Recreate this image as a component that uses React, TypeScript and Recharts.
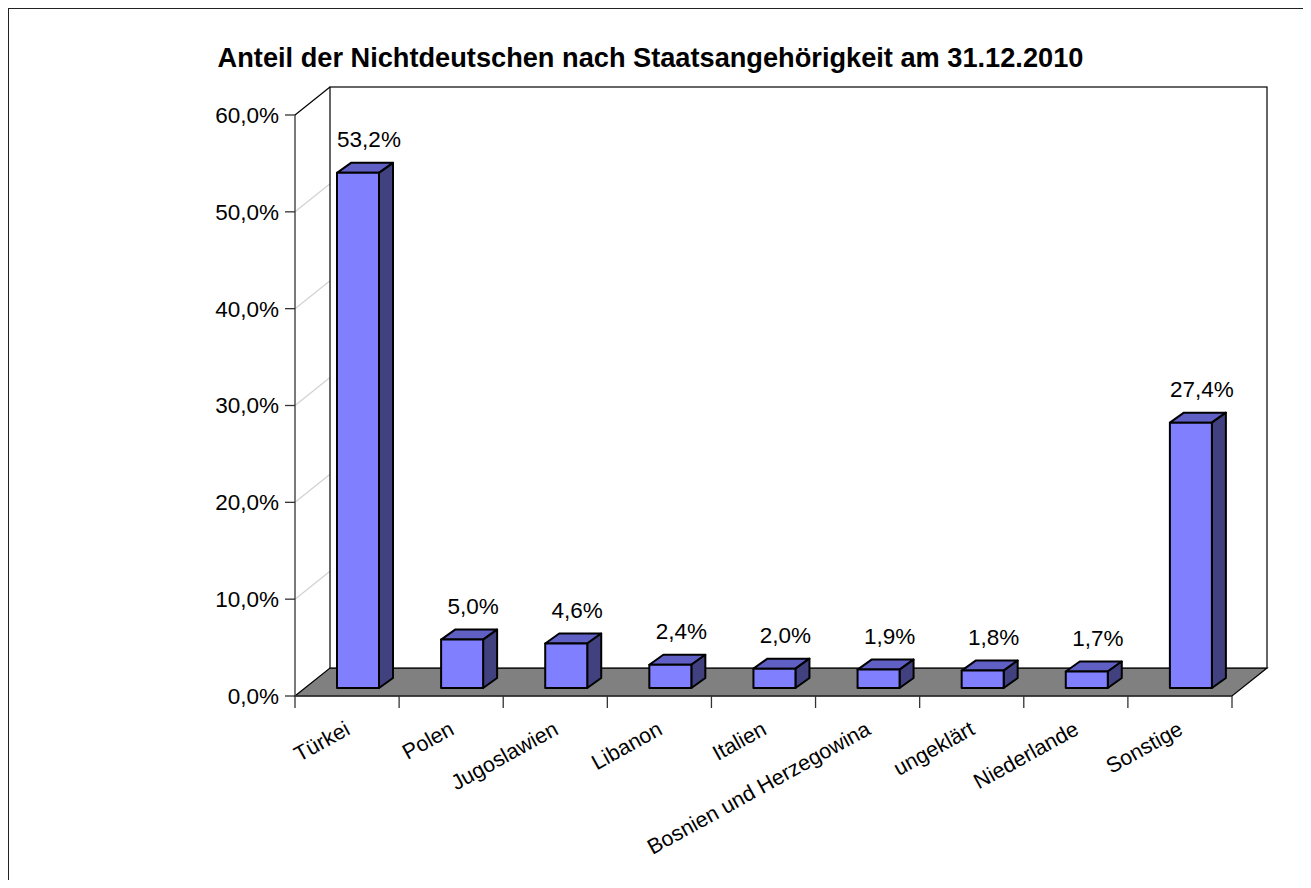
import React from 'react'
import { BarChart, Bar, XAxis, YAxis, CartesianGrid, LabelList } from 'recharts'

const categories = [
  'Türkei',
  'Polen',
  'Jugoslawien',
  'Libanon',
  'Italien',
  'Bosnien und Herzegowina',
  'ungeklärt',
  'Niederlande',
  'Sonstige',
]
const shares = [53.2, 5.0, 4.6, 2.4, 2.0, 1.9, 1.8, 1.7, 27.4]
const yTicks = [0, 10, 20, 30, 40, 50, 60]
const title = 'Anteil der Nichtdeutschen nach Staatsangehörigkeit am 31.12.2010'

const data = categories.map((land, i) => ({ land, anteil: shares[i] }))

const W = 1295
const H = 872
const MARGIN = { top: 107, right: 71, left: 197, bottom: 34 }
const Y_AXIS_W = 90
const X_AXIS_H = 150
const PLOT_W = W - MARGIN.left - Y_AXIS_W - MARGIN.right
const BAND = PLOT_W / categories.length

// depth of the 3d box (back wall offset) and of each bar
const WALL_DX = 35
const WALL_DY = -28
const BAR_SHIFT_X = 11
const BAR_SHIFT_Y = -8
const BAR_DX = 14
const BAR_DY = -10

const FONT = '"Liberation Sans", Arial, Helvetica, sans-serif'
const TICK_SIZE = 12
const TICK_MARGIN = 12

const pct = (v: number) => v.toFixed(1).replace('.', ',') + '%'

// draws back wall, side wall gridlines and the floor for each y tick
function WallLine(props: any) {
  const { x1, x2, y1, y, height, index } = props
  const top = y ?? MARGIN.top
  const bottom = (y ?? MARGIN.top) + (height ?? 581)
  const isTop = Math.abs(y1 - top) < 1
  const isBottom = Math.abs(y1 - bottom) < 1
  const bx1 = x1 + WALL_DX
  const bx2 = x2 + WALL_DX
  const by = y1 + WALL_DY

  if (isBottom) {
    return (
      <g key={`wall-${index}`}>
        <polygon
          points={`${x1},${y1} ${x2},${y1} ${bx2},${by} ${bx1},${by}`}
          fill="#808080"
          stroke="#000"
          strokeWidth={1.2}
        />
      </g>
    )
  }
  if (isTop) {
    return (
      <g key={`wall-${index}`}>
        <rect x={bx1} y={by} width={x2 - x1} height={bottom - top} fill="#fff" stroke="#000" strokeWidth={1.2} />
        <line x1={x1} y1={y1} x2={bx1} y2={by} stroke="#000" strokeWidth={1.2} />
      </g>
    )
  }
  return (
    <g key={`wall-${index}`}>
      <line x1={bx1} y1={by} x2={bx2} y2={by} stroke="#d2d2d2" strokeWidth={1.5} />
      <line x1={x1} y1={y1} x2={bx1} y2={by} stroke="#d2d2d2" strokeWidth={1.2} />
    </g>
  )
}

function Box3D(props: any) {
  const { x, y, width, height } = props
  if (height == null || width == null) return null
  const fx = x + BAR_SHIFT_X
  const fy = y + BAR_SHIFT_Y
  const rx = fx + width
  const by = fy + height
  return (
    <g stroke="#000" strokeWidth={2} strokeLinejoin="round">
      <polygon
        points={`${fx},${fy} ${fx + BAR_DX},${fy + BAR_DY} ${rx + BAR_DX},${fy + BAR_DY} ${rx},${fy}`}
        fill="#6060c4"
      />
      <polygon
        points={`${rx},${fy} ${rx + BAR_DX},${fy + BAR_DY} ${rx + BAR_DX},${by + BAR_DY} ${rx},${by}`}
        fill="#41417f"
      />
      <rect x={fx} y={fy} width={width} height={height} fill="#8080ff" />
    </g>
  )
}

function ValueLabel(props: any) {
  const vb = props.viewBox || {}
  const x = props.x ?? vb.x
  const y = props.y ?? vb.y
  const width = props.width ?? vb.width
  return (
    <text
      x={x + width / 2 + BAR_SHIFT_X + 11}
      y={y + BAR_SHIFT_Y - 33}
      textAnchor="middle"
      dominantBaseline="central"
      fontFamily={FONT}
      fontSize={22.5}
      fill="#000"
    >
      {pct(props.value)}
    </text>
  )
}

function CategoryTick(props: any) {
  const { x, y, payload, index } = props
  const axisY = y - TICK_SIZE - TICK_MARGIN
  const left = x - BAND / 2
  const isLast = payload.index === categories.length - 1 || index === categories.length - 1
  return (
    <g>
      <line x1={left} y1={axisY} x2={left} y2={axisY + TICK_SIZE} stroke="#333" strokeWidth={1.3} />
      {isLast && (
        <line x1={x + BAND / 2} y1={axisY} x2={x + BAND / 2} y2={axisY + TICK_SIZE} stroke="#333" strokeWidth={1.3} />
      )}
      <text
        x={x - 3}
        y={y}
        dy="0.71em"
        textAnchor="end"
        transform={`rotate(-29, ${x - 3}, ${y})`}
        fontFamily={FONT}
        fontSize={21.5}
        fill="#000"
      >
        {payload.value}
      </text>
    </g>
  )
}

export default function App() {
  return (
    <div style={{ position: 'relative', width: W, height: H, overflow: 'hidden', background: '#fff' }}>
      <div
        style={{
          position: 'absolute',
          left: 0,
          top: 0,
          width: W + 10,
          height: H + 10,
          borderLeft: '1.6px solid #222',
          borderTop: '1.6px solid #222',
        }}
      />
      <div
        style={{
          position: 'absolute',
          left: 0,
          width: 1285,
          top: 35,
          textAlign: 'center',
          fontFamily: FONT,
          fontWeight: 'bold',
          fontSize: 27.2,
          lineHeight: '30px',
          color: '#000',
          whiteSpace: 'nowrap',
        }}
      >
        {title}
      </div>
      <BarChart width={W} height={H} data={data} margin={MARGIN}>
        <CartesianGrid vertical={false} horizontal={WallLine} />
        <XAxis
          dataKey="land"
          interval={0}
          height={X_AXIS_H}
          tickLine={false}
          tickSize={TICK_SIZE}
          tickMargin={TICK_MARGIN}
          axisLine={{ stroke: '#333', strokeWidth: 1.3 }}
          tick={<CategoryTick />}
        />
        <YAxis
          width={Y_AXIS_W}
          domain={[0, 60]}
          ticks={yTicks}
          interval={0}
          tickFormatter={pct}
          tickSize={10}
          tickMargin={6}
          axisLine={{ stroke: '#333', strokeWidth: 1.3 }}
          tickLine={{ stroke: '#333', strokeWidth: 1.3 }}
          tick={{ fill: '#000', fontFamily: FONT, fontSize: 22.5 }}
        />
        <Bar dataKey="anteil" barSize={42} shape={<Box3D />} isAnimationActive={false}>
          <LabelList dataKey="anteil" content={<ValueLabel />} />
        </Bar>
      </BarChart>
    </div>
  )
}
